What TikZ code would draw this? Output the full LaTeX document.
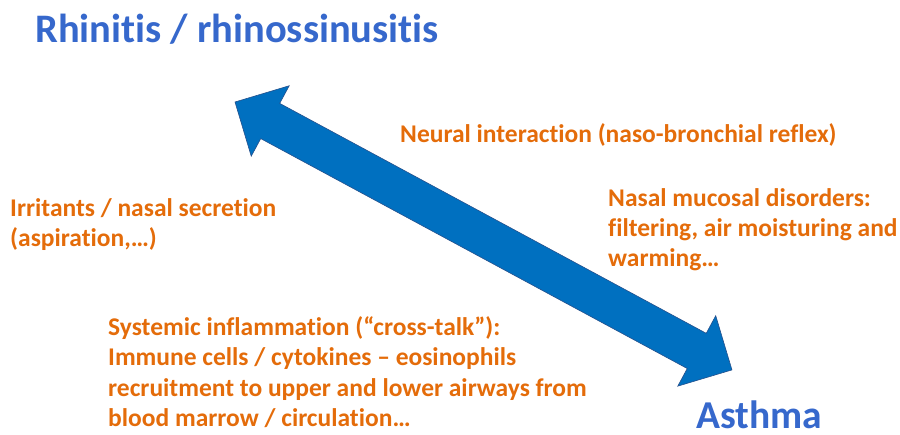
\documentclass[tikz,border=0pt]{standalone}
\usepackage{fontspec}
\setmainfont[Ligatures=NoCommon]{Carlito}
\definecolor{titleblue}{RGB}{54,104,204}
\definecolor{txtorange}{RGB}{228,108,10}
\definecolor{arrowfill}{RGB}{0,112,192}
\definecolor{arrowline}{RGB}{37,80,140}
\begin{document}
\begin{tikzpicture}[x=1bp,y=-1bp,
  titletext/.style={inner sep=0pt,anchor=base west,text=titleblue,font=\fontsize{40.5bp}{48bp}\selectfont\bfseries},
  labeltext/.style={inner sep=0pt,anchor=base west,text=txtorange,font=\fontsize{25.5bp}{30bp}\selectfont\bfseries}]
\useasboundingbox (0,0) rectangle (900,435);
% double arrow
\coordinate (tipA) at (235,102);
\coordinate (tipB) at (732,370);
\begin{scope}[shift={(tipA)},rotate=-28.33]
\draw[fill=arrowfill,draw=arrowline,line width=0.6bp,line join=miter]
  (0,0) -- (40,-40) -- (40,-20) -- (524.6,-20) -- (524.6,-40) -- (564.6,0)
  -- (524.6,40) -- (524.6,20) -- (40,20) -- (40,40) -- cycle;
\end{scope}
\node[titletext] (rhin) at (35,43) {Rhinitis / rhinossinusitis};
\node[titletext,font=\fontsize{39.5bp}{47bp}\selectfont\bfseries] (asth) at (696,428) {Asthma};
\node[labeltext] (neural) at (400,143) {Neural interaction (naso-bronchial reflex)};
\node[labeltext] (irrit1) at (10,217) {Irritants / nasal secretion};
\node[labeltext] (irrit2) at (10,247) {(aspiration,…)};
\node[labeltext] (nasal1) at (608,207) {Nasal mucosal disorders:};
\node[labeltext] (nasal2) at (608,237) {filtering, air moisturing and};
\node[labeltext] (nasal3) at (608,267) {warming…};
\node[labeltext] (syst1) at (108,336) {Systemic inflammation (“cross-talk”):};
\node[labeltext] (syst2) at (108,365.5) {Immune cells / cytokines – eosinophils};
\node[labeltext] (syst3) at (108,396) {recruitment to upper and lower airways from};
\node[labeltext] (syst4) at (108,426) {blood marrow / circulation…};
\end{tikzpicture}
\end{document}
